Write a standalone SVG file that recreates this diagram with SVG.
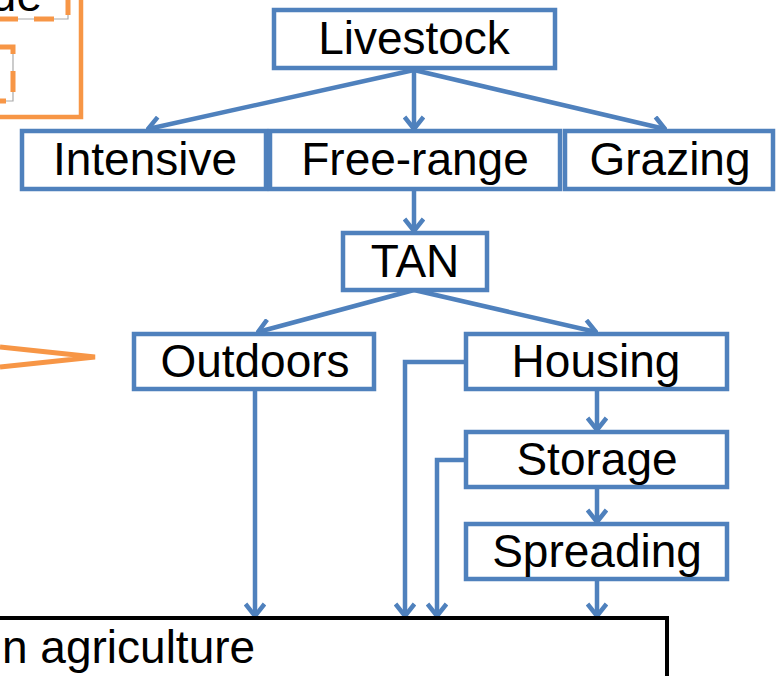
<svg xmlns="http://www.w3.org/2000/svg" width="778" height="676" viewBox="0 0 778 676">
<style>
.box{fill:#fff;stroke:#4F81BD;stroke-width:4.5;}
.lbl{font-family:"Liberation Sans",Arial,sans-serif;font-size:46px;fill:#000;text-anchor:middle;}
.con{fill:none;stroke:#4F81BD;stroke-width:4.5;}
.or{fill:none;stroke:#F79646;}
</style>
<defs>
<marker id="ah" viewBox="0 0 16 22" refX="14" refY="11" markerWidth="16" markerHeight="22" markerUnits="userSpaceOnUse" orient="auto">
<path d="M2,1.5 L14,11 L2,20.5" fill="none" stroke="#4F81BD" stroke-width="4.5" stroke-linejoin="miter"/>
</marker>
</defs>
<rect width="778" height="676" fill="#fff"/>
<g id="left-context">
<text x="42" y="11" class="lbl" style="text-anchor:end">ue</text>
<path d="M0,19 H68 V0" fill="none" stroke="#aaa" stroke-width="1.2"/>
<path d="M0,19 H18 M34,19 H54 M68,0 V15" class="or" stroke-width="5"/>
<path d="M0,47 H13 V101 H0" fill="none" stroke="#aaa" stroke-width="1.2"/>
<path d="M0,47 H13 V54 M13,71 V92 M0,101 H6" class="or" stroke-width="5"/>
<path d="M-5,117 H81 V-5" class="or" stroke-width="4.5"/>
<path d="M0,347 L95,357 L0,367" class="or" stroke-width="5"/>
</g>
<g id="connectors">
<path class="con" d="M414,68 V129" marker-end="url(#ah)"/>
<path class="con" d="M414,70 L148,129" marker-end="url(#ah)"/>
<path class="con" d="M414,70 L665,129" marker-end="url(#ah)"/>
<path class="con" d="M414,189 V231" marker-end="url(#ah)"/>
<path class="con" d="M414,290 L258,332" marker-end="url(#ah)"/>
<path class="con" d="M414,290 L596,332" marker-end="url(#ah)"/>
<path class="con" d="M255,389 V616" marker-end="url(#ah)"/>
<path class="con" d="M466,362 H405 V616" marker-end="url(#ah)"/>
<path class="con" d="M466,460 H437 V616" marker-end="url(#ah)"/>
<path class="con" d="M597,389 V430" marker-end="url(#ah)"/>
<path class="con" d="M597,487 V522" marker-end="url(#ah)"/>
<path class="con" d="M597,579 V616" marker-end="url(#ah)"/>
</g>
<g id="livestock"><rect class="box" x="274" y="10" width="281" height="58"/><text class="lbl" x="414" y="54">Livestock</text></g>
<g id="intensive"><rect class="box" x="22" y="131" width="244" height="58"/><text class="lbl" x="145" y="175">Intensive</text></g>
<g id="free-range"><rect class="box" x="270" y="131" width="290" height="58"/><text class="lbl" x="415" y="175">Free-range</text></g>
<g id="grazing"><rect class="box" x="565" y="131" width="208" height="58"/><text class="lbl" x="670" y="175">Grazing</text></g>
<g id="tan"><rect class="box" x="343" y="233" width="144" height="57"/><text class="lbl" x="415" y="277">TAN</text></g>
<g id="outdoors"><rect class="box" x="134" y="334" width="240" height="55"/><text class="lbl" x="255" y="377">Outdoors</text></g>
<g id="housing"><rect class="box" x="466" y="334" width="261" height="55"/><text class="lbl" x="596" y="377">Housing</text></g>
<g id="storage"><rect class="box" x="466" y="432" width="261" height="55"/><text class="lbl" x="597" y="475">Storage</text></g>
<g id="spreading"><rect class="box" x="466" y="524" width="261" height="55"/><text class="lbl" x="597" y="567">Spreading</text></g>
<g id="agriculture"><rect x="-10" y="618" width="677" height="80" fill="#fff" stroke="#000" stroke-width="4"/><text class="lbl" x="2" y="663" style="text-anchor:start">n agriculture</text></g>
</svg>
